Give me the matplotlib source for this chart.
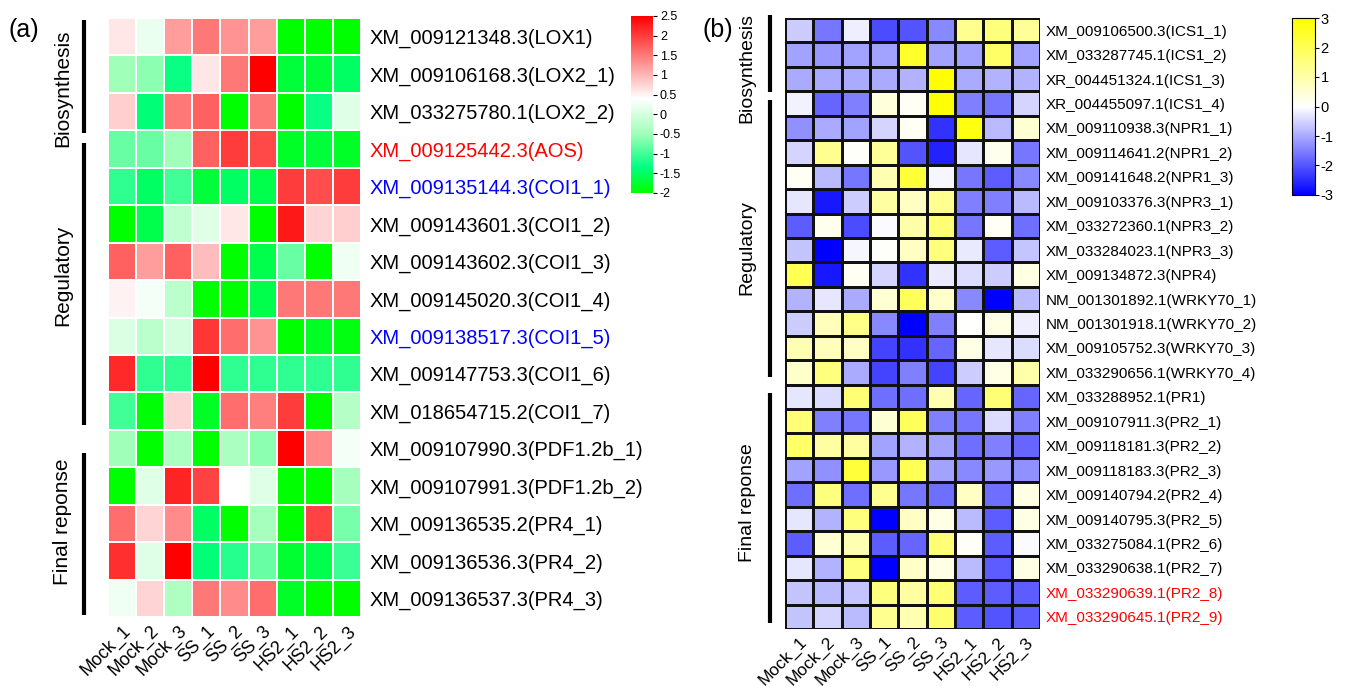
import numpy as np
import matplotlib
matplotlib.use("Agg")
import matplotlib.pyplot as plt
from matplotlib.colors import LinearSegmentedColormap

plt.rcParams['font.family'] = ['Liberation Sans', 'DejaVu Sans']
plt.rcParams['axes.unicode_minus'] = False

W, H = 1349, 688

samples = ["Mock_1", "Mock_2", "Mock_3", "SS_1", "SS_2", "SS_3", "HS2_1", "HS2_2", "HS2_3"]

# panel (a): JA pathway genes
genes_a = ["XM_009121348.3(LOX1)", "XM_009106168.3(LOX2_1)", "XM_033275780.1(LOX2_2)",
           "XM_009125442.3(AOS)", "XM_009135144.3(COI1_1)", "XM_009143601.3(COI1_2)",
           "XM_009143602.3(COI1_3)", "XM_009145020.3(COI1_4)", "XM_009138517.3(COI1_5)",
           "XM_009147753.3(COI1_6)", "XM_018654715.2(COI1_7)", "XM_009107990.3(PDF1.2b_1)",
           "XM_009107991.3(PDF1.2b_2)", "XM_009136535.2(PR4_1)", "XM_009136536.3(PR4_2)",
           "XM_009136537.3(PR4_3)"]
colors_a = ["black"] * 16
colors_a[3] = "red"
colors_a[4] = "blue"
colors_a[8] = "blue"

vals_a = [
    [0.6, 0.2, 1.2, 1.5, 1.3, 1.2, -2.0, -2.0, -2.0],
    [-0.5, -0.6, -1.3, 0.6, 1.5, 2.5, -1.7, -1.7, -1.5],
    [0.8, -1.4, 1.5, 1.7, -2.0, 1.5, -2.0, -1.3, 0.1],
    [-0.8, -0.8, -0.5, 1.7, 2.0, 1.9, -1.8, -1.7, -1.8],
    [-1.1, -1.5, -1.0, -1.7, -1.5, -1.6, 2.0, 1.85, 2.0],
    [-2.0, -1.6, -0.2, 0.1, 0.6, -2.0, 2.3, 0.75, 0.8],
    [1.7, 1.2, 1.7, 0.95, -2.0, -1.6, -0.8, -2.0, 0.25],
    [0.5, 0.3, -0.25, -2.0, -2.0, -1.6, 1.5, 1.5, 1.5],
    [0.05, -0.25, 0.0, 2.05, 1.6, 1.3, -2.0, -1.8, -1.9],
    [2.15, -1.1, -1.1, 2.5, -1.1, -1.1, -1.1, -1.1, -1.1],
    [-1.0, -1.95, 0.75, -1.8, 1.6, 1.45, 2.0, -2.0, -0.3],
    [-0.5, -2.0, -0.4, -2.0, -0.4, -0.6, 2.5, 1.35, 0.3],
    [-2.0, 0.1, 2.2, 1.95, 0.4, 0.1, -2.0, -2.0, -0.45],
    [1.6, 0.75, 1.35, -1.5, -2.0, -0.45, -2.0, 1.95, -0.7],
    [2.1, 0.1, 2.5, -1.4, -1.15, -0.8, -1.75, -1.6, -1.05],
    [0.25, 0.75, -0.35, 1.5, 1.35, 1.6, -1.8, -2.0, -2.0],
]

# panel (b): SA pathway genes
genes_b = ["XM_009106500.3(ICS1_1)", "XM_033287745.1(ICS1_2)", "XR_004451324.1(ICS1_3)",
           "XR_004455097.1(ICS1_4)", "XM_009110938.3(NPR1_1)", "XM_009114641.2(NPR1_2)",
           "XM_009141648.2(NPR1_3)", "XM_009103376.3(NPR3_1)", "XM_033272360.1(NPR3_2)",
           "XM_033284023.1(NPR3_3)", "XM_009134872.3(NPR4)", "NM_001301892.1(WRKY70_1)",
           "NM_001301918.1(WRKY70_2)", "XM_009105752.3(WRKY70_3)", "XM_033290656.1(WRKY70_4)",
           "XM_033288952.1(PR1)", "XM_009107911.3(PR2_1)", "XM_009118181.3(PR2_2)",
           "XM_009118183.3(PR2_3)", "XM_009140794.2(PR2_4)", "XM_009140795.3(PR2_5)",
           "XM_033275084.1(PR2_6)", "XM_033290638.1(PR2_7)", "XM_033290639.1(PR2_8)",
           "XM_033290645.1(PR2_9)"]
colors_b = ["black"] * 25
colors_b[23] = "red"
colors_b[24] = "red"

vals_b = [
    [-0.6, -1.6, -0.2, -2.1, -2.0, -1.4, 1.3, 1.5, 1.2],
    [-1.1, -1.2, -1.1, -1.1, 2.5, -1.1, -1.1, 1.8, -1.1],
    [-1.0, -1.0, -1.0, -1.0, -0.9, 3.0, -1.0, -0.9, -0.9],
    [-0.15, -1.8, -1.5, 0.4, 0.1, 2.9, -1.5, -1.6, -0.5],
    [-1.3, -1.0, -1.1, -0.5, 0.1, -2.4, 2.8, -0.8, 0.5],
    [-0.5, 1.3, 0.05, 1.2, -2.0, -2.6, -0.3, 0.2, -1.6],
    [0.1, -0.8, -1.6, 0.9, 2.3, -0.1, -1.6, -1.9, -1.4],
    [-0.3, -2.7, -0.6, 1.1, 0.7, 1.3, -1.5, -1.5, -0.8],
    [-1.9, 0.2, -2.1, -0.05, 1.0, 1.6, -1.6, 0.1, -1.7],
    [-0.7, -3.0, -0.1, 0.05, 0.7, 1.5, -0.25, -1.9, -0.7],
    [2.0, -2.7, 0.15, -0.5, -2.4, -0.25, -0.4, -0.6, 0.35],
    [-0.9, -0.3, -1.0, 0.5, 1.9, 0.6, -1.4, -3.0, -0.8],
    [-0.6, 0.8, 1.4, -1.4, -3.0, -1.5, 0.0, 0.3, -0.2],
    [0.9, 0.8, 0.7, -2.2, -2.4, -1.8, 0.3, -0.3, -0.4],
    [0.6, 1.5, -1.0, -2.2, -1.5, -2.2, -0.6, 0.3, 1.0],
    [-0.3, -0.4, 1.6, -1.7, -1.7, 0.9, -1.8, 1.6, -1.8],
    [1.6, -1.5, -1.6, 0.5, 1.9, -1.5, -1.6, -0.4, -1.5],
    [1.8, 1.1, 1.1, -1.1, -0.9, -1.1, -1.7, -1.5, -1.8],
    [-1.1, -1.3, 2.3, -1.2, 2.0, -1.1, -1.4, -1.2, -1.3],
    [-1.7, 1.5, -1.7, 1.3, -1.6, -1.7, 0.7, -1.7, 0.3],
    [-0.3, -0.9, 1.5, -3.0, 0.7, 0.3, -0.8, -1.9, 0.3],
    [-1.9, 0.5, 0.9, -1.9, -1.8, 1.6, 0.05, -1.9, -0.05],
    [-0.3, -0.9, 1.5, -3.0, 0.65, 0.3, -0.8, -1.9, 0.3],
    [-0.7, -0.8, -0.7, 1.5, 1.1, 1.6, -1.9, -1.9, -1.9],
    [-0.7, -0.5, -0.8, 1.3, 0.9, 1.7, -1.9, -2.0, -1.9],
]

groups_a = [("Biosynthesis", 20, 133, 88), ("Regulatory", 143, 425, 275), ("Final reponse", 453, 615, 522)]
groups_b = [("Biosynthesis", 15, 92, 68), ("Regulatory", 100, 377, 248), ("Final reponse", 393, 623, 503)]


def px(l, t, r, b):
    return [l / W, 1 - b / H, (r - l) / W, (b - t) / H]


cmap_a = LinearSegmentedColormap.from_list(
    "gwr", [(0.0, "#00FF00"), (0.144, "#00FF80"), (0.333, "#A0FFB8"), (0.533, "#FFFFFF"), (1.0, "#FF0000")])
cmap_b = LinearSegmentedColormap.from_list("bwy", ["#0000FF", "#FFFFFF", "#FFFF00"])

fig = plt.figure(figsize=(W / 100, H / 100), dpi=100)


def heatmap(rect, vals, genes, gcolors, cmap, vmin, vmax, ec, lw, fs_y, fs_x, pad):
    ax = fig.add_axes(rect)
    arr = np.array(vals)
    m = ax.pcolormesh(arr, cmap=cmap, vmin=vmin, vmax=vmax, edgecolors=ec, linewidth=lw)
    ax.set_xlim(0, arr.shape[1])
    ax.set_ylim(arr.shape[0], 0)
    ax.yaxis.tick_right()
    ax.set_yticks(np.arange(arr.shape[0]) + 0.5)
    ax.set_yticklabels(genes, fontsize=fs_y)
    for t, c in zip(ax.get_yticklabels(), gcolors):
        t.set_color(c)
    ax.set_xticks(np.arange(arr.shape[1]) + 0.5)
    ax.set_xticklabels(samples, fontsize=fs_x, rotation=45, ha="right", rotation_mode="anchor")
    ax.tick_params(length=0, axis="y", pad=pad)
    ax.tick_params(length=0, axis="x", pad=4)
    for s in ax.spines.values():
        s.set_visible(False)
    return m


m_a = heatmap(px(108, 18, 361, 617), vals_a, genes_a, colors_a, cmap_a, -2, 2.5, "white", 1.2, 14.5, 13, 6)
m_b = heatmap(px(785, 18, 1040, 629), vals_b, genes_b, colors_b, cmap_b, -3, 3, "#111111", 1.0, 11, 12.5, 4)

cax_a = fig.add_axes(px(631, 16, 653, 193))
cb_a = fig.colorbar(m_a, cax=cax_a, ticks=np.arange(-2, 2.51, 0.5))
cb_a.ax.set_yticklabels(["-2", "-1.5", "-1", "-0.5", "0", "0.5", "1", "1.5", "2", "2.5"])
cb_a.ax.tick_params(labelsize=9, length=3, width=0.8, pad=2)
cb_a.outline.set_visible(False)

cax_b = fig.add_axes(px(1292, 18, 1315, 195))
cb_b = fig.colorbar(m_b, cax=cax_b, ticks=np.arange(-3, 4, 1))
cb_b.ax.tick_params(labelsize=10.5, length=3, width=0.8, pad=1)
cb_b.outline.set_linewidth(0.8)

# overlay for group bars and panel letters
ov = fig.add_axes([0, 0, 1, 1])
ov.set_xlim(0, W)
ov.set_ylim(H, 0)
ov.axis("off")
for name, y0, y1, yc in groups_a:
    ov.plot([84, 84], [y0, y1], color="black", lw=3, solid_capstyle="butt")
    ov.text(63, yc, name, rotation=90, ha="center", va="center", fontsize=15)
for name, y0, y1, yc in groups_b:
    ov.plot([770, 770], [y0, y1], color="black", lw=3, solid_capstyle="butt")
    ov.text(747, yc, name, rotation=90, ha="center", va="center", fontsize=14)
ov.text(8, 30, "(a)", fontsize=18, va="center", ha="left")
ov.text(703, 30, "(b)", fontsize=18, va="center", ha="left")

fig.savefig("out.png", dpi=100)
